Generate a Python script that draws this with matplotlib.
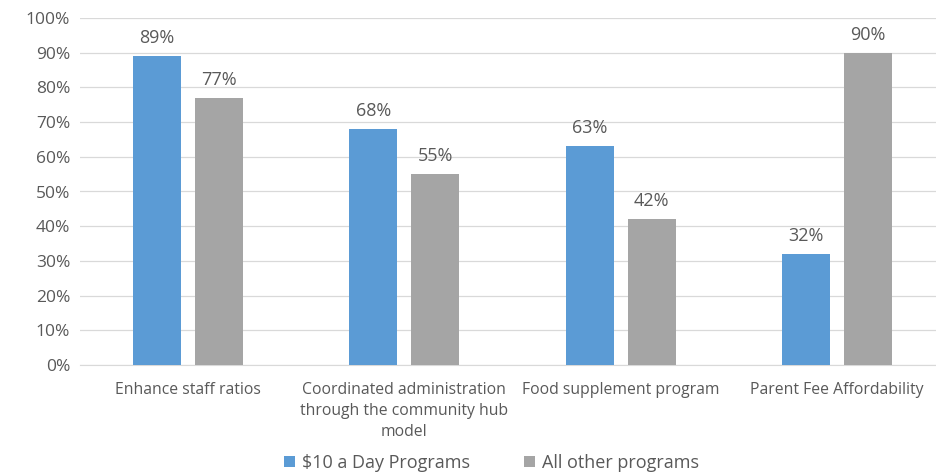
import matplotlib
matplotlib.use("Agg")
from matplotlib import pyplot as plt
import numpy as np

# data
categories = ["Enhance staff ratios",
              "Coordinated administration\nthrough the community hub\nmodel",
              "Food supplement program",
              "Parent Fee Affordability"]
ten_a_day = [89, 68, 63, 32]
all_other = [77, 55, 42, 90]
series_names = ["$10 a Day Programs", "All other programs"]

blue = "#5B9BD5"
grey = "#A5A5A5"
txt = "#595959"

plt.rcParams['font.family'] = ['Open Sans', 'DejaVu Sans']

fig = plt.figure(figsize=(9.36, 4.73), dpi=100)
ax = fig.add_axes([80/936, 108/473, 1 - 80/936 + 9/936, 347/473])

x = np.arange(len(categories))
w = 0.222
off = 0.143
b1 = ax.bar(x - off, ten_a_day, w, color=blue, label=series_names[0], zorder=3)
b2 = ax.bar(x + off, all_other, w, color=grey, label=series_names[1], zorder=3)

for bars, vals in ((b1, ten_a_day), (b2, all_other)):
    for b, v in zip(bars, vals):
        ax.text(b.get_x() + b.get_width()/2, v + 2.6, f"{v}%", ha='center', va='bottom',
                fontsize=13, color=txt)

ax.set_xlim(-0.5, 3.5)
ax.set_ylim(0, 100)
ax.set_yticks(range(0, 101, 10))
ax.set_yticklabels([f"{t}%" for t in range(0, 101, 10)])
ax.set_xticks(x)
ax.set_xticklabels(categories, fontsize=11.3, color=txt, linespacing=1.45)
ax.tick_params(axis='y', labelsize=12.5, labelcolor=txt, length=0, pad=7)
ax.tick_params(axis='x', length=0, pad=12)
ax.grid(axis='y', color='#D9D9D9', lw=0.9, zorder=0)
for s in ['top', 'right', 'left']:
    ax.spines[s].set_visible(False)
ax.spines['bottom'].set_color('#D9D9D9')

fig.legend(handles=[b1, b2], loc='lower center', bbox_to_anchor=(0.525, -0.032), ncol=2,
           frameon=False, fontsize=13, handlelength=0.6, handleheight=0.6,
           columnspacing=3.0, handletextpad=0.4, labelcolor=txt)

fig.savefig("out.png", dpi=100)
